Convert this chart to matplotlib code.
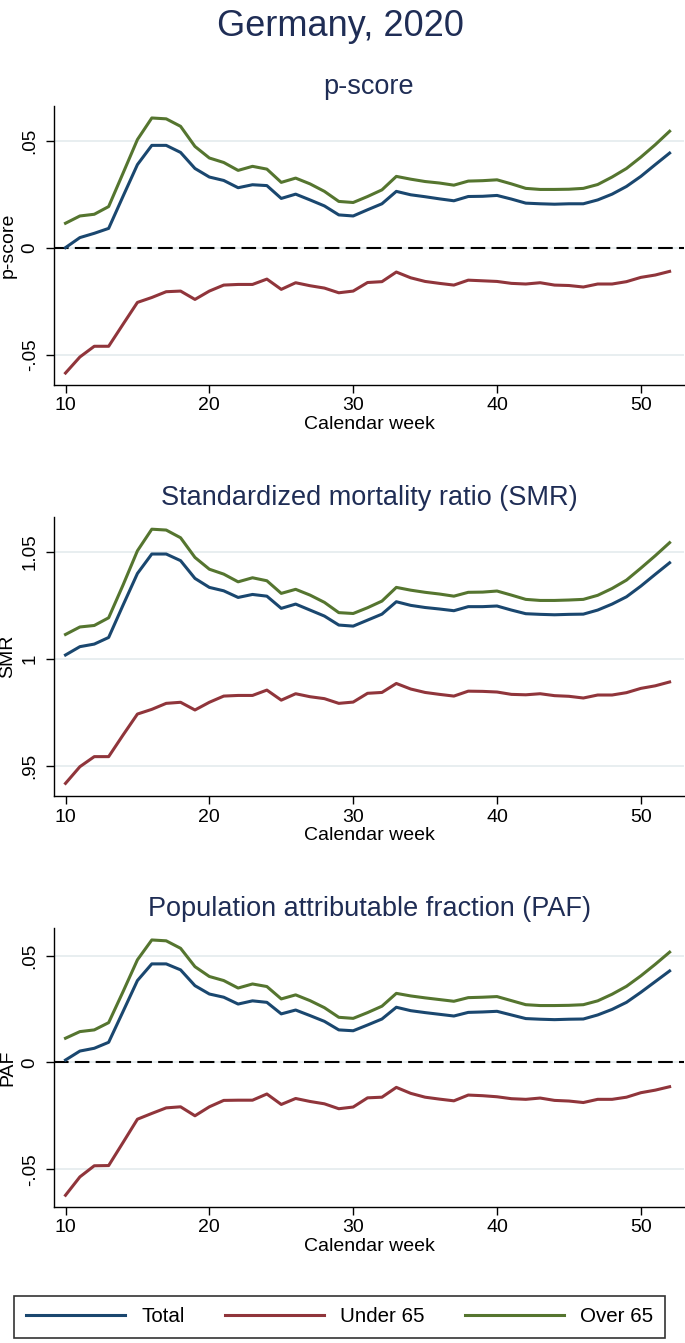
import numpy as np
import matplotlib
matplotlib.use("Agg")
import matplotlib.pyplot as plt

plt.rcParams["font.family"] = ["Liberation Sans", "DejaVu Sans"]

# Données : semaines 10 à 52
weeks = np.arange(10, 53)

pscore_total = [0.000, 0.0047, 0.0067, 0.009, 0.024, 0.0388, 0.0478, 0.0478, 0.0445, 0.037,
                0.033, 0.0314, 0.028, 0.0294, 0.029, 0.023, 0.025, 0.0223, 0.0195, 0.0153,
                0.0148, 0.0177, 0.0205, 0.0263, 0.0247, 0.0238, 0.0228, 0.0219, 0.0239, 0.024,
                0.0244, 0.0227, 0.0208, 0.0205, 0.0203, 0.0205, 0.0205, 0.0223, 0.025, 0.0286,
                0.0333, 0.0388, 0.0442]
pscore_under65 = [-0.0586, -0.0511, -0.0461, -0.0461, -0.0358, -0.0256, -0.0233, -0.0206, -0.0203, -0.0242,
                  -0.0203, -0.0175, -0.0172, -0.0172, -0.0147, -0.0195, -0.0164, -0.0178, -0.0189, -0.0211,
                  -0.0203, -0.0163, -0.0159, -0.0114, -0.0141, -0.0158, -0.0167, -0.0175, -0.0152, -0.0155,
                  -0.0158, -0.0167, -0.017, -0.0164, -0.0175, -0.0177, -0.0184, -0.017, -0.017, -0.0159,
                  -0.0139, -0.0128, -0.0111]
pscore_over65 = [0.0114, 0.0148, 0.0156, 0.0192, 0.0348, 0.0505, 0.0606, 0.0602, 0.0567, 0.0473,
                 0.0419, 0.0398, 0.0361, 0.038, 0.0367, 0.0305, 0.0325, 0.0298, 0.0263, 0.0216,
                 0.0211, 0.0239, 0.027, 0.0333, 0.032, 0.0309, 0.0302, 0.0292, 0.0311, 0.0313,
                 0.0317, 0.0298, 0.0277, 0.0272, 0.0272, 0.0273, 0.0277, 0.0295, 0.033, 0.037,
                 0.0423, 0.0481, 0.0544]

smr_total = [1.0019, 1.0058, 1.007, 1.0101, 1.0252, 1.04, 1.0491, 1.0491, 1.046, 1.0377,
             1.0335, 1.0319, 1.0288, 1.0302, 1.0294, 1.0237, 1.0257, 1.0229, 1.0201, 1.0159,
             1.0154, 1.0182, 1.021, 1.0268, 1.0251, 1.0241, 1.0234, 1.0226, 1.0245, 1.0245,
             1.0248, 1.0229, 1.0212, 1.0209, 1.0207, 1.0209, 1.021, 1.0229, 1.0257, 1.0291,
             1.0341, 1.0396, 1.045]
smr_under65 = [0.9419, 0.9497, 0.9544, 0.9544, 0.9645, 0.9743, 0.9765, 0.9793, 0.9798, 0.9762,
               0.9798, 0.9827, 0.983, 0.983, 0.9855, 0.9808, 0.9838, 0.9824, 0.9815, 0.9793,
               0.9799, 0.984, 0.9844, 0.9886, 0.986, 0.9844, 0.9835, 0.9827, 0.985, 0.9849,
               0.9846, 0.9835, 0.9833, 0.9838, 0.9829, 0.9826, 0.9818, 0.9832, 0.9832, 0.9843,
               0.9863, 0.9875, 0.9893]
smr_over65 = [1.0115, 1.015, 1.0157, 1.0193, 1.0346, 1.0506, 1.0607, 1.0603, 1.0567, 1.0475,
              1.042, 1.0397, 1.0361, 1.038, 1.0366, 1.0307, 1.0326, 1.0299, 1.0265, 1.0217,
              1.0213, 1.024, 1.0271, 1.0335, 1.0322, 1.0312, 1.0304, 1.0294, 1.0312, 1.0313,
              1.0318, 1.0299, 1.0279, 1.0274, 1.0274, 1.0276, 1.0279, 1.0298, 1.033, 1.0369,
              1.0425, 1.0483, 1.0544]

paf_total = [0.0011, 0.0053, 0.0066, 0.0094, 0.0238, 0.0383, 0.0461, 0.0461, 0.0433, 0.0359,
             0.032, 0.0305, 0.0273, 0.0288, 0.0281, 0.0227, 0.0245, 0.0219, 0.0192, 0.0152,
             0.0148, 0.0175, 0.0203, 0.0258, 0.0242, 0.0233, 0.0225, 0.0217, 0.0234, 0.0236,
             0.0239, 0.0222, 0.0205, 0.0202, 0.02, 0.0202, 0.0203, 0.0222, 0.0248, 0.0281,
             0.0328, 0.0378, 0.0428]
paf_under65 = [-0.0622, -0.0536, -0.0484, -0.0483, -0.0375, -0.0266, -0.0239, -0.0213, -0.0208, -0.025,
               -0.0208, -0.0178, -0.0177, -0.0177, -0.0148, -0.0197, -0.0169, -0.0183, -0.0194, -0.0217,
               -0.0209, -0.0166, -0.0163, -0.0117, -0.0145, -0.0163, -0.0172, -0.018, -0.0153, -0.0156,
               -0.0161, -0.017, -0.0173, -0.0167, -0.0178, -0.0181, -0.0188, -0.0173, -0.0173, -0.0163,
               -0.0142, -0.013, -0.0114]
paf_over65 = [0.0113, 0.0144, 0.0152, 0.0186, 0.0331, 0.048, 0.0573, 0.0569, 0.0534, 0.0448,
              0.0402, 0.0383, 0.0348, 0.0367, 0.0355, 0.0297, 0.0316, 0.0289, 0.0256, 0.0211,
              0.0206, 0.0233, 0.0263, 0.0323, 0.0311, 0.0302, 0.0294, 0.0286, 0.0303, 0.0305,
              0.0308, 0.0289, 0.027, 0.0266, 0.0266, 0.0267, 0.027, 0.0288, 0.0319, 0.0356,
              0.0405, 0.0459, 0.0516]

xticks = [10, 20, 30, 40, 50]
series_labels = ["Total", "Under 65", "Over 65"]

# Couleurs (style Stata s2color)
c_total = "#1a476f"
c_under = "#90353b"
c_over = "#55752f"
c_title = "#1f2d55"
c_grid = "#e6edef"

W, H = 685, 1343
fig = plt.figure(figsize=(W / 100, H / 100), dpi=100)


def panel(top, bottom, title, ylab, total, under, over, yticks, yticklabels, ylim, zero_line):
    ax = fig.add_axes([54 / W, 1 - bottom / H, 630 / W, (bottom - top) / H])
    for yt in yticks:
        ax.axhline(yt, color=c_grid, linewidth=1.3, zorder=0)
    if zero_line:
        ax.axhline(0, color="k", linestyle=(0, (7, 3)), linewidth=1.5, zorder=1)
    ax.plot(weeks, total, color=c_total, linewidth=2.2, label=series_labels[0], zorder=3)
    ax.plot(weeks, under, color=c_under, linewidth=2.2, label=series_labels[1], zorder=3)
    ax.plot(weeks, over, color=c_over, linewidth=2.2, label=series_labels[2], zorder=3)
    ax.set_xlim(9.2, 53)
    ax.set_ylim(*ylim)
    ax.set_xticks(xticks)
    ax.set_yticks(yticks)
    ax.set_yticklabels(yticklabels, rotation=90, va="center")
    ax.spines["top"].set_visible(False)
    ax.spines["right"].set_visible(False)
    ax.spines["left"].set_linewidth(1.0)
    ax.spines["bottom"].set_linewidth(1.0)
    ax.tick_params(axis="x", length=6, width=1.0, pad=3, labelsize=14)
    ax.tick_params(axis="y", length=6, width=1.0, pad=5, labelsize=13.5)
    ax.set_title(title, fontsize=19.5, color=c_title, pad=8.5)
    ax.set_xlabel("Calendar week", fontsize=14, labelpad=1)
    ax.set_ylabel(ylab, fontsize=14)
    ax.yaxis.set_label_coords(-0.06, 0.5)
    return ax


panel(106, 385, "p-score", "p-score", pscore_total, pscore_under65, pscore_over65,
      [-0.05, 0, 0.05], ["-.05", "0", ".05"], (-0.0642, 0.0662), True)
panel(517, 796, "Standardized mortality ratio (SMR)", "SMR", smr_total, smr_under65, smr_over65,
      [0.95, 1, 1.05], [".95", "1", "1.05"], (0.936, 1.0664), False)
ax3 = panel(928, 1207, "Population attributable fraction (PAF)", "PAF", paf_total, paf_under65, paf_over65,
            [-0.05, 0, 0.05], ["-.05", "0", ".05"], (-0.0677, 0.0629), True)

fig.text(0.497, 1 - 36 / H, "Germany, 2020", fontsize=26, color=c_title, ha="center", va="baseline")

handles, labels = ax3.get_legend_handles_labels()
leg = fig.legend(handles, labels, loc="center", bbox_to_anchor=(339.7 / W, 1 - 1317 / H),
                 ncol=3, fontsize=14.8, handlelength=4.83, handletextpad=0.78, columnspacing=1.95,
                 borderpad=0.58, fancybox=False, frameon=True, edgecolor="k")
leg.get_frame().set_linewidth(1.2)

fig.savefig("out.png", dpi=100)
